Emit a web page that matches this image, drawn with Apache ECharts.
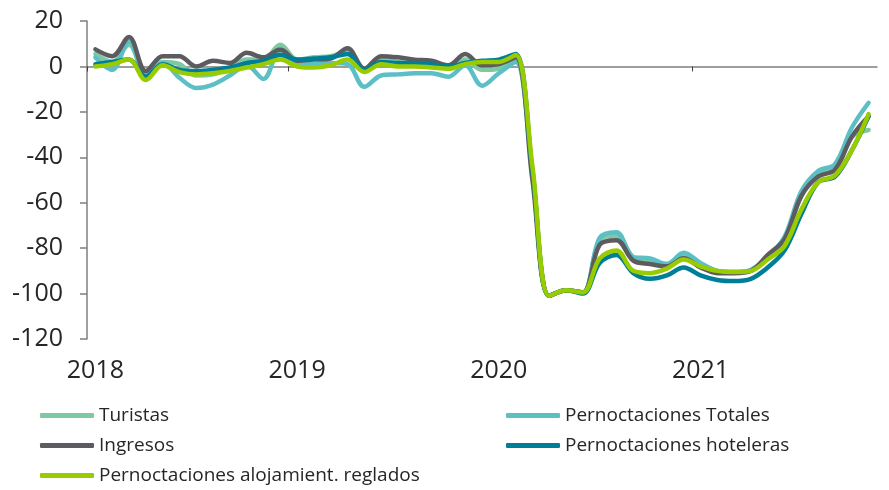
<!DOCTYPE html>
<html>
<head>
<meta charset="utf-8">
<script src="https://cdn.jsdelivr.net/npm/echarts@6/dist/echarts.min.js"></script>
<style>
html,body{margin:0;padding:0;background:#fff;}
#chart{width:889px;height:490px;}
</style>
</head>
<body>
<div id="chart"></div>
<script>
// Months (mid-month observations), Jan 2018 - Nov 2021
const months = [
  '2018-01','2018-02','2018-03','2018-04','2018-05','2018-06','2018-07','2018-08','2018-09','2018-10','2018-11','2018-12',
  '2019-01','2019-02','2019-03','2019-04','2019-05','2019-06','2019-07','2019-08','2019-09','2019-10','2019-11','2019-12',
  '2020-01','2020-02','2020-03','2020-04','2020-05','2020-06','2020-07','2020-08','2020-09','2020-10','2020-11','2020-12',
  '2021-01','2021-02','2021-03','2021-04','2021-05','2021-06','2021-07','2021-08','2021-09','2021-10','2021-11'
];
const tickMonths = months.concat(['2021-12']);

const turistas = [5.5,2,9.5,-3,2,1,-4,-3.5,-0.5,3,3,9.5,
  3,4,4.5,6.5,-1,3.5,2,1,0.5,-1,3,-1.5,
  -1,3,-47,-101,-98.5,-99.5,-76.5,-74.5,-84,-86,-87,-83,
  -87,-90,-90.5,-90,-84,-76,-57,-47,-44.5,-31,-28];
const pernoctTotales = [4,-1.5,11,-3,1.5,-5,-9.5,-8,-4,0.5,-5.5,7,
  1.5,1,1.5,1,-9,-4,-3.5,-3,-3,-4.5,0.5,-8.5,
  -3,2,-47,-101,-98.5,-99.5,-75.5,-73,-84,-84.5,-87,-82,
  -86.5,-90,-90.5,-89.5,-84,-75,-55,-46,-43,-27,-16];
const ingresos = [7.5,4.5,13,-2,4.5,4.5,0,2.5,1.5,6,4,7.5,
  2.5,3,3.5,8,-1,4.5,4,3,2.5,0.5,5.5,0.5,
  1,4,-50,-101,-98.5,-99.5,-78.5,-76.5,-85.5,-87,-88,-84.5,
  -88.5,-91,-91,-90,-83,-76,-57,-48.5,-45.5,-31,-22];
const pernoctHoteleras = [1,2,3,-4.5,1,-1.5,-2,-1.5,-0.5,1.5,2.5,5,
  3,3.5,4,5.5,-1.5,2,1.5,1.5,1,0,1.5,2.5,
  3,5.5,-46,-101,-98.5,-100,-86.5,-83,-91,-93.5,-92,-88.5,
  -92,-94,-94.5,-93.5,-88.5,-81,-65,-51,-48.5,-37,-22];
const pernoctReglados = [0,1,3,-6,0.5,-2.5,-3.5,-3,-2,-0.5,1,3,
  0,-0.5,0.5,3,-2.5,1,0,0,-0.5,-1,1,2,
  2,5,-44,-101,-98.5,-99.5,-84.5,-81,-90,-91,-89,-85,
  -88,-90,-90.5,-90,-85,-79,-63,-51,-48,-37,-21];

const seriesNames = ['Turistas','Pernoctaciones Totales','Ingresos','Pernoctaciones hoteleras','Pernoctaciones alojamient. reglados'];
const seriesData = [turistas, pernoctTotales, ingresos, pernoctHoteleras, pernoctReglados];
const seriesColors = ['#7ec8a2','#5cbfc6','#5b5b60','#007e98','#99cc00'];

const yMin = -120, yMax = 20, yStep = 20;
const FONT = "'Open Sans', 'Noto Sans', sans-serif";
const TXT = '#262626';
const AXIS = '#7f7f7f';

// legend slots: [series index, left, top]
const legendSlots = [[0, 40, 406], [1, 506, 406], [2, 40, 436], [3, 506, 436], [4, 40, 466]];

const chart = echarts.init(document.getElementById('chart'), null, {renderer:'canvas'});
chart.setOption({
  animation: false,
  backgroundColor: '#ffffff',
  grid: {left: 87, right: 12, top: 21, bottom: 151, containLabel: false},
  xAxis: [
    {
      type: 'category', data: tickMonths, boundaryGap: false, position: 'bottom',
      axisLine: {show: true, onZero: true, lineStyle: {color: AXIS, width: 1.5}},
      axisTick: {show: true, length: 5, interval: 11, lineStyle: {color: '#404040', width: 1}},
      axisLabel: {show: false}, splitLine: {show: false}
    },
    {
      type: 'category', data: months, boundaryGap: true, position: 'bottom',
      axisLine: {show: false, onZero: false}, axisTick: {show: false}, splitLine: {show: false},
      axisLabel: {
        show: true, interval: 11, margin: 19,
        fontFamily: FONT, fontSize: 25, color: TXT,
        formatter: v => v.slice(0, 4)
      }
    }
  ],
  yAxis: {
    type: 'value', min: yMin, max: yMax, interval: yStep,
    axisLine: {show: true, lineStyle: {color: AXIS, width: 1.5}},
    axisTick: {show: true, length: 7, lineStyle: {color: AXIS, width: 1.5}},
    splitLine: {show: false},
    axisLabel: {fontFamily: FONT, fontSize: 25, color: TXT, margin: 24}
  },
  legend: legendSlots.map(s => ({
    data: [seriesNames[s[0]]],
    orient: 'horizontal', left: s[1], top: s[2], padding: 0,
    itemWidth: 54, itemHeight: 5, icon: 'roundRect',
    textStyle: {fontFamily: FONT, fontSize: 19, color: TXT, lineHeight: 19}
  })),
  series: seriesNames.map((name, k) => ({
    name: name, type: 'line', xAxisIndex: 1, data: seriesData[k],
    smooth: 0.35, showSymbol: false, symbol: 'none',
    color: seriesColors[k],
    lineStyle: {color: seriesColors[k], width: 4.5, cap: 'round', join: 'round'}
  }))
});
</script>
</body>
</html>
